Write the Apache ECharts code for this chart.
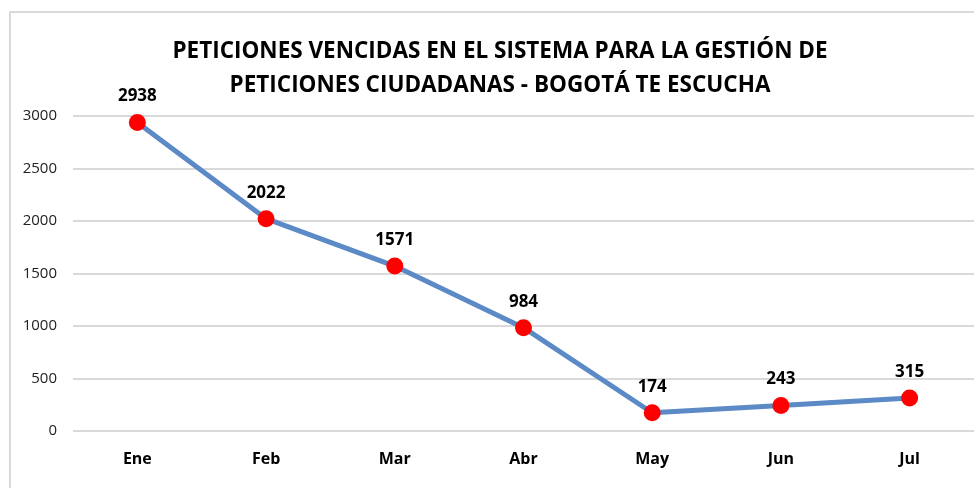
<!DOCTYPE html>
<html>
<head>
<meta charset="utf-8">
<script src="https://cdn.jsdelivr.net/npm/echarts@6/dist/echarts.min.js"></script>
<style>
  html, body { margin: 0; padding: 0; background: #fff; }
  #chart { width: 974px; height: 488px; }
</style>
</head>
<body>
<div id="chart"></div>
<script>
const months = ['Ene', 'Feb', 'Mar', 'Abr', 'May', 'Jun', 'Jul'];
const vencidas = [2938, 2022, 1571, 984, 174, 243, 315];
const yTicks = [0, 500, 1000, 1500, 2000, 2500, 3000];

const myChart = echarts.init(document.getElementById('chart'));
const font = '"Open Sans", "Noto Sans", sans-serif';

const option = {
  animation: false,
  textStyle: { fontFamily: font },
  graphic: [
    {
      type: 'rect',
      shape: { x: 10, y: 12, width: 1000, height: 500 },
      style: { fill: 'none', stroke: '#d9d9d9', lineWidth: 2 },
      silent: true
    }
  ],
  title: {
    text: 'PETICIONES VENCIDAS EN EL SISTEMA PARA LA GESTIÓN DE\nPETICIONES CIUDADANAS - BOGOTÁ TE ESCUCHA',
    left: 495,
    top: 30,
    textAlign: 'center',
    textStyle: {
      fontFamily: font,
      fontSize: 22.5,
      fontWeight: 'bold',
      color: '#000',
      lineHeight: 34
    }
  },
  grid: {
    left: 73,
    right: -2,
    top: 116,
    bottom: 57,
    containLabel: false
  },
  xAxis: {
    type: 'category',
    data: months,
    axisLine: { show: false },
    axisTick: { show: false },
    axisLabel: {
      margin: 20,
      color: '#000',
      fontWeight: 'bold',
      fontSize: 16,
      fontFamily: font
    }
  },
  yAxis: {
    type: 'value',
    min: yTicks[0],
    max: yTicks[yTicks.length - 1],
    interval: 500,
    axisLine: { show: false },
    axisTick: { show: false },
    axisLabel: {
      margin: 16,
      color: '#222',
      fontSize: 15,
      fontFamily: font,
      formatter: function (v) { return String(v); }
    },
    splitLine: { lineStyle: { color: '#d9d9d9', width: 2 } }
  },
  series: [
    {
      name: 'Peticiones vencidas',
      type: 'line',
      data: vencidas,
      symbol: 'circle',
      symbolSize: 17,
      itemStyle: { color: '#ff0000' },
      lineStyle: { color: '#5b8ac6', width: 5 },
      label: {
        show: true,
        position: 'top',
        distance: 9,
        color: '#000',
        fontWeight: 'bold',
        fontSize: 17,
        fontFamily: font
      },
      z: 3
    }
  ]
};

myChart.setOption(option);
window.addEventListener('resize', function () {
  myChart.resize();
});
</script>
</body>
</html>
